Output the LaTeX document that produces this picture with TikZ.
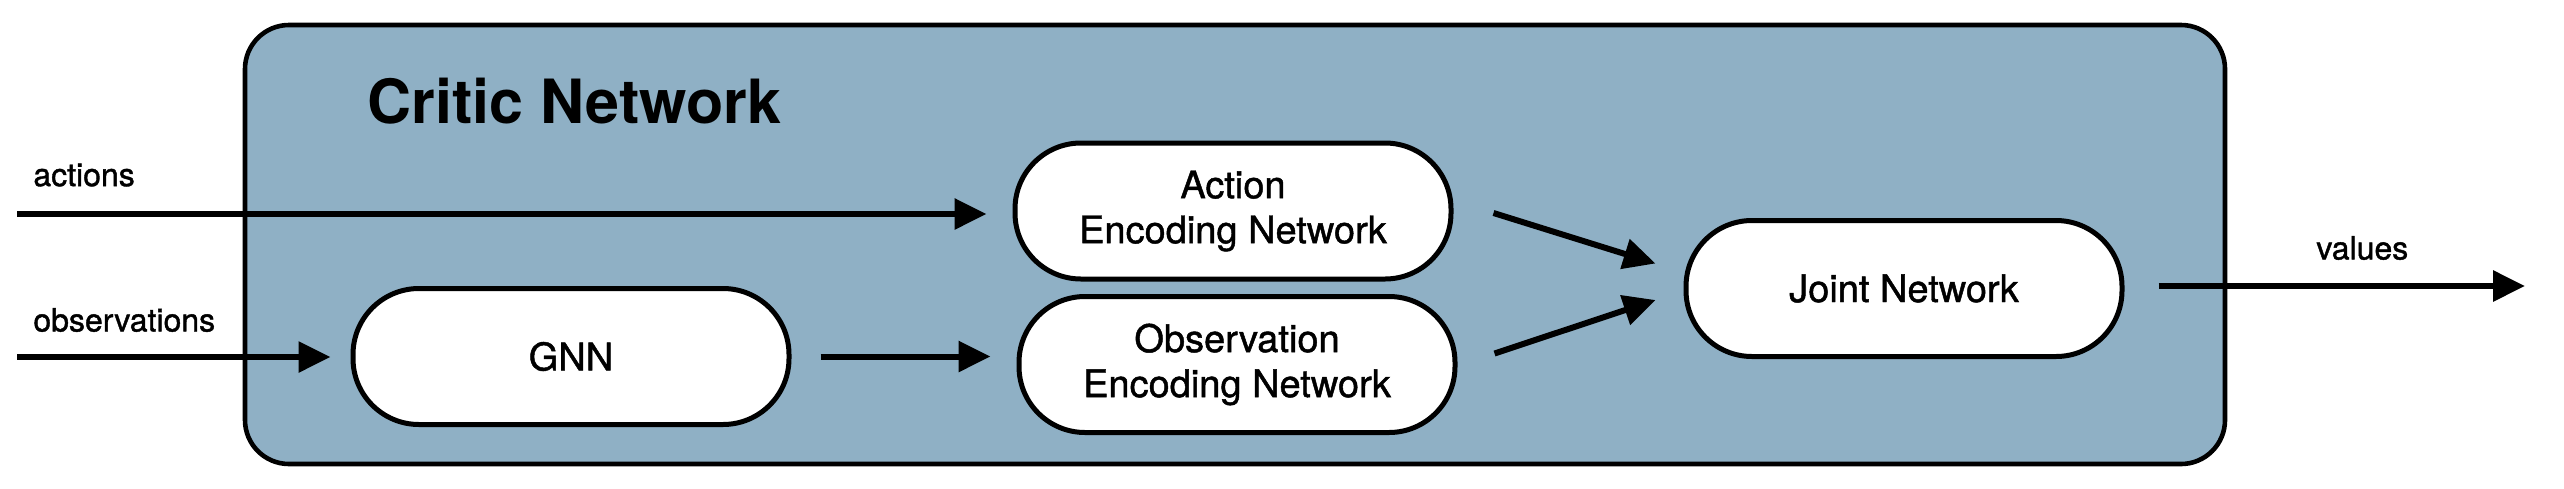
\documentclass[tikz,border=0pt]{standalone}
\usepackage{fontspec}
\setmainfont{TeX Gyre Heros}
\newfontfamily\medfont[FakeBold=1.2]{TeX Gyre Heros}
\usetikzlibrary{arrows.meta,calc}
\definecolor{critic}{RGB}{143,176,197}
\tikzset{
  netbox/.style={draw=black, line width=2.5pt, fill=white, rounded corners=33pt,
    minimum width=218pt, minimum height=68pt, align=center, inner sep=0pt,
    font=\medfont\fontsize{19}{22.5}\selectfont},
  arr/.style={line width=3pt, -{Triangle[length=16pt,width=15pt]}},
  lbl/.style={anchor=west, inner sep=0pt, font=\medfont\fontsize{16}{19}\selectfont}
}
\begin{document}
\begin{tikzpicture}[x=0.5pt,y=-0.5pt]
\useasboundingbox (0,0) rectangle (2564,488);
% outer container
\draw[line width=2.3pt, fill=critic, rounded corners=22pt] (245,25) rectangle (2225,464);
\node[anchor=base west, inner sep=0pt, font=\fontsize{30.5}{36}\selectfont\bfseries] (title) at (367,123) {Critic Network};
% nodes
\node[netbox] (gnn) at (571,356.5) {GNN};
\node[netbox] (act) at (1233,211) {Action\\Encoding Network};
\node[netbox] (obs) at (1237,364.5) {Observation\\Encoding Network};
\node[netbox] (joint) at (1904,288.5) {Joint Network};
% free ends
\coordinate (ain) at (17,214);
\coordinate (oin) at (17,357);
\coordinate (vout) at (2525,286);
% labels
\node[lbl] (lact) at (33,175) {actions};
\node[lbl] (lobs) at (33,320) {observations};
\node[lbl] (lval) at (2316,248) {values};
% connectors
\draw[arr, shorten >=13pt] (ain) -- (ain -| act.west);
\draw[arr, shorten >=10pt] (oin) -- (oin -| gnn.west);
\draw[arr, shorten <=14.5pt, shorten >=13pt] (gnn.east) -- (gnn.east -| obs.west);
\draw[arr] ([shift={(40,2)}]act.east) -- ([shift={(-28,-25)}]joint.west);
\draw[arr] ([shift={(37,-11)}]obs.east) -- ([shift={(-28,11.5)}]joint.west);
\draw[arr, shorten <=17pt] (vout -| joint.east) -- (vout);
\end{tikzpicture}
\end{document}
